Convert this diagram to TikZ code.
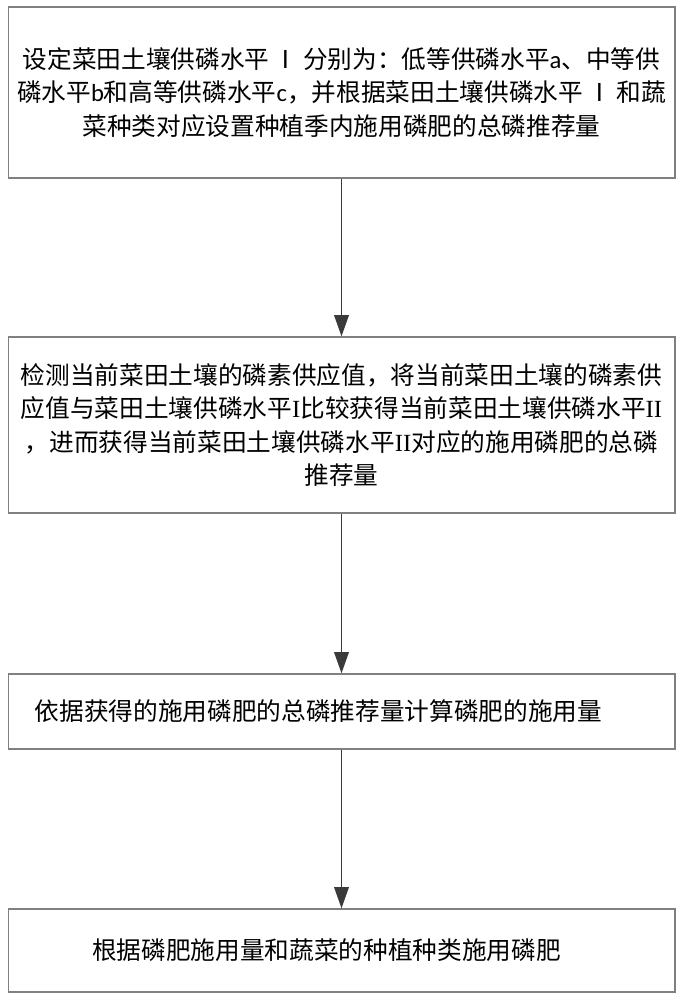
\documentclass[tikz,border=0pt]{standalone}
\usepackage{fontspec}
\setmainfont{Noto Sans CJK SC}
\newfontfamily\latinsf{Carlito}
\newfontfamily\latinrm{Liberation Serif}
\usetikzlibrary{arrows.meta}

\newcommand{\numI}{\kern0.18emⅠ\kern0.18em}

\begin{document}
\begin{tikzpicture}[x=0.75pt, y=-0.75pt]

% Colori
\definecolor{boxGray}{HTML}{808080}
\definecolor{arrowGray}{HTML}{3A3A3A}

% Stili
\tikzset{
  stepbox/.style={draw=boxGray, line width=1pt, minimum width=500pt,
    text width=496pt, inner xsep=2pt, align=center,
    font=\fontsize{18.5pt}{25pt}\selectfont},
  flow/.style={draw=arrowGray, line width=1.3pt,
    -{Triangle[length=16pt, width=11pt]}}
}

% Area del disegno
\useasboundingbox (0,0) rectangle (684,1000);

% Passo 1
\node[stepbox, minimum height=128.25pt] (s1) at (341.5,92.5)
  {设定菜田土壤供磷水平\numI 分别为：低等供磷水平{\latinsf a}、中等供\\
   磷水平{\latinsf b}和高等供磷水平{\latinsf c}，并根据菜田土壤供磷水平\numI 和蔬\\
   菜种类对应设置种植季内施用磷肥的总磷推荐量};

% Passo 2
\node[stepbox, minimum height=132pt] (s2) at (341.5,425)
  {检测当前菜田土壤的磷素供应值，将当前菜田土壤的磷素供\\
   应值与菜田土壤供磷水平{\latinrm I}比较获得当前菜田土壤供磷水平{\latinrm II}\\
   ，进而获得当前菜田土壤供磷水平{\latinrm II}对应的施用磷肥的总磷\\
   推荐量};

% Passo 3
\node[stepbox, minimum height=56.25pt, align=left] (s3) at (341.5,711.5)
  {\hspace*{18pt}依据获得的施用磷肥的总磷推荐量计算磷肥的施用量};

% Passo 4
\node[stepbox, minimum height=62.25pt, align=left] (s4) at (341.5,950.5)
  {\hspace*{61pt}根据磷肥施用量和蔬菜的种植种类施用磷肥};

% Frecce
\draw[flow] (s1) -- (s2);
\draw[flow] (s2) -- (s3);
\draw[flow] (s3) -- (s4);

\end{tikzpicture}
\end{document}
